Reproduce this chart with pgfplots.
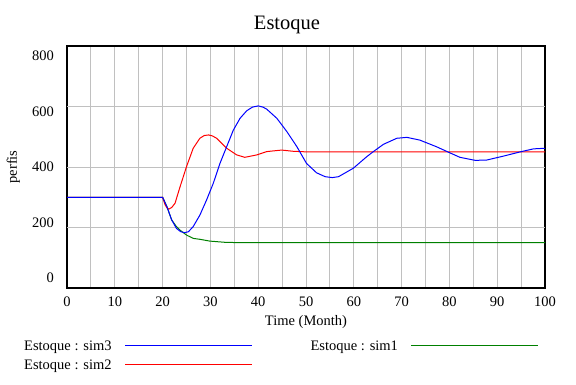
\documentclass[border=0pt]{standalone}
\usepackage{fontspec}
\setmainfont{Liberation Serif}
\usepackage{pgfplots}
\pgfplotsset{compat=1.18}
\definecolor{vgrid}{RGB}{192,192,192}
\definecolor{vblue}{RGB}{0,0,255}
\definecolor{vred}{RGB}{255,0,0}
\definecolor{vgreen}{RGB}{0,128,0}
\newcommand{\fs}{\fontsize{14.5bp}{17bp}\selectfont}
\begin{document}
\begin{tikzpicture}
\path[use as bounding box] (-67bp,-97bp) rectangle (509bp,288bp);
\begin{axis}[
  at={(0,0)}, anchor=south west,
  scale only axis, width=478bp, height=242bp,
  xmin=0, xmax=100, ymin=0, ymax=800,
  xtick={0,10,...,100}, minor xtick={5,15,...,95},
  xmajorgrids, xminorgrids,
  ytick={33,216.5,400,583.5,767}, yticklabels={0,200,400,600,800},
  extra y ticks={200,400,600}, extra y tick labels={},
  extra y tick style={grid=major},
  major tick length=0pt, minor tick length=0pt,
  grid style={color=vgrid, line width=1bp},
  major grid style={color=vgrid, line width=1bp},
  minor grid style={color=vgrid, line width=1bp},
  axis line style={line width=2.5bp, black},
  /pgf/number format/assume math mode=true,
  tick label style={font=\fs},
  xticklabel style={anchor=base, yshift=-18.7bp, inner sep=0pt},
  yticklabel style={anchor=east, xshift=-13bp, inner sep=0pt},
  legend columns=2,
  legend plot pos=right,
  legend cell align=left,
  legend style={at={(axis description cs:-0.09,-0.219)}, anchor=north west,
    draw=none, fill=none, inner sep=0pt, font=\fs,
    nodes={inner sep=0pt},
    row sep=8bp,
    /tikz/every odd column/.append style={column sep=13bp},
    /tikz/every even column/.append style={column sep=58bp}},
]
\addlegendimage{legend image code/.code={\draw[vblue, line width=1bp] (0bp,1.7bp) -- (127bp,1.7bp);}}
\addlegendimage{legend image code/.code={\draw[vgreen, line width=1bp] (0bp,1.7bp) -- (127bp,1.7bp);}}
\addlegendimage{legend image code/.code={\draw[vred, line width=1bp] (0bp,1.7bp) -- (127bp,1.7bp);}}
% sim1 (green)
\addplot[vgreen, line width=1bp, forget plot] coordinates {
(0,300) (20,300) (20.9,269) (21.9,225) (22.8,205) (23.6,192) (25.0,175) (26.4,164)
(27.8,161) (29.9,155) (33.1,151) (36,150) (100,150)};
% sim2 (red)
\addplot[vred, line width=1bp, forget plot] coordinates {
(0,300) (20,300) (20.5,276) (20.9,265) (21.3,261) (21.9,266) (22.6,280) (23.6,332)
(25.0,401) (26.4,462) (27.8,495) (28.7,504) (29.6,506) (30.4,503) (31.3,495) (33.4,462)
(35.5,440) (37.2,432) (39.7,440) (41.8,451) (44.9,456) (47.3,452) (50.1,450) (100,450)};
% sim3 (blue)
\addplot[vblue, line width=1bp, forget plot] coordinates {
(0,300) (20,300) (20.9,269) (21.9,225) (22.9,197) (23.8,186) (24.6,183) (25.4,186)
(26.4,203) (27.8,241) (29.2,291) (30.6,346) (32.0,412) (33.4,467) (34.8,522)
(36.2,561) (37.6,586) (38.8,598) (40.0,602) (41.0,598) (41.8,591) (43.9,561)
(46.0,517) (48.1,467) (50.1,412) (52.2,381) (54.0,368) (55.5,365) (56.8,368)
(59.9,396) (61.3,415) (62.7,434) (64.1,451) (66.2,475) (69.0,495) (71.1,498)
(73.8,489) (77.3,467) (79.8,449) (82.2,432) (85.4,422) (87.8,423) (91.3,436)
(94.8,450) (97.6,460) (100,462)};
\legend{Estoque : sim3, Estoque : sim1, Estoque : sim2}
\end{axis}
\node[font=\fontsize{20.5bp}{24bp}\selectfont, anchor=base] at (220bp,258.7bp) {Estoque};
\node[font=\fs, anchor=base] at (239bp,-37.7bp) {Time (Month)};
\node[font=\fs, anchor=base, rotate=90] at (-50bp,121bp) {perfis};
\end{tikzpicture}
\end{document}
